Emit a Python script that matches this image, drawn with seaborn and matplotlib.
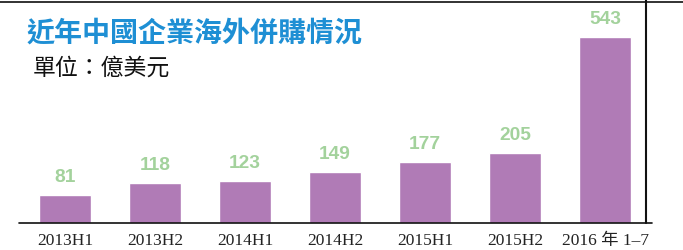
import matplotlib
matplotlib.use("Agg")
import matplotlib.pyplot as plt
import seaborn as sns
from matplotlib.lines import Line2D

periods = ["2013H1", "2013H2", "2014H1", "2014H2", "2015H1", "2015H2", "2016 年 1–7"]
values = [81, 118, 123, 149, 177, 205, 543]

title = "近年中國企業海外併購情況"
subtitle = "單位：億美元"

bar_color = "#b07bb6"
label_color = "#a3d29c"
title_color = "#1e8fd4"

sns.set_theme(style="white")
plt.rcParams["font.family"] = ["Liberation Sans", "Noto Sans CJK TC", "DejaVu Sans"]

fig = plt.figure(figsize=(6.83, 2.5), dpi=100)
ax = fig.add_axes([20 / 683, 27 / 250, 630 / 683, 218 / 250])

sns.barplot(x=periods, y=values, color=bar_color, saturation=1, width=0.58, ax=ax)
ax.set_xlim(-0.5, len(periods) - 0.5)
ax.set_ylim(0, 543 * 218 / 186)

for c in ax.containers:
    ax.bar_label(c, padding=6.5, color=label_color, fontsize=13.8, fontweight="bold",
                 family=["Liberation Sans", "DejaVu Sans"])

ax.set_xlabel("")
ax.set_ylabel("")
ax.set_yticks([])
for s in ["left", "right", "top", "bottom"]:
    ax.spines[s].set_visible(False)
ax.tick_params(axis="x", length=0, pad=7.5)
for lab in ax.get_xticklabels():
    lab.set_family(["Liberation Serif", "Noto Sans CJK TC"])
    lab.set_fontsize(12.5)
    lab.set_color("#222222")

# frame lines
fig.add_artist(Line2D([19 / 683, 652 / 683], [27 / 250, 27 / 250], color="#111111", lw=1.2))
fig.add_artist(Line2D([0, 1], [1 - 1.5 / 250, 1 - 1.5 / 250], color="#222222", lw=1.3))
fig.add_artist(Line2D([646 / 683, 646 / 683], [27 / 250, 1], color="#111111", lw=1.5))

fig.text(27 / 683, 1 - 34 / 250, title, color=title_color, fontsize=20.2, fontweight="bold",
         family=["Noto Sans CJK TC"], va="center", ha="left")
fig.text(33 / 683, 1 - 68 / 250, subtitle, color="#111111", fontsize=16.5,
         family=["Noto Sans CJK TC"], va="center", ha="left")

fig.savefig("out.png", dpi=100)
